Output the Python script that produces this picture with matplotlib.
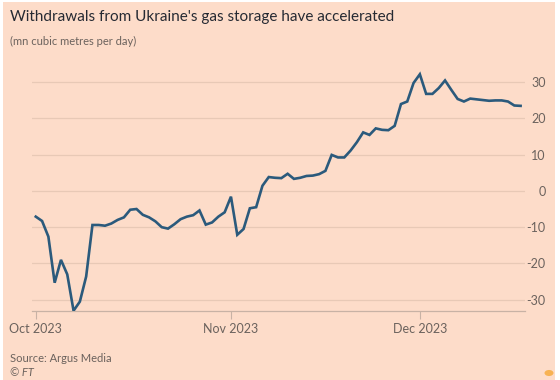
import numpy as np
import matplotlib
matplotlib.use('Agg')
import matplotlib.pyplot as plt
import matplotlib.dates as mdates
from matplotlib.patches import Rectangle, Circle

plt.rcParams['font.family'] = ['Lato', 'DejaVu Sans']

# daily withdrawals, mn cubic metres per day (Oct 1 - Dec 17 2023)
start = np.datetime64('2023-10-01')
oct_vals = [-7.1, -8.3, -12.6, -25.3, -19.0, -23.0, -33.0, -30.5, -23.6, -9.4,
            -9.4, -9.6, -9.0, -8.0, -7.3, -5.2, -5.0, -6.6, -7.3, -8.4,
            -10.0, -10.4, -9.2, -7.8, -7.1, -6.7, -5.4, -9.3, -8.7, -7.1, -5.9]
nov_vals = [-1.6, -12.1, -10.5, -4.8, -4.5, 1.4, 3.8, 3.6, 3.5, 4.7,
            3.3, 3.6, 4.1, 4.2, 4.6, 5.5, 9.9, 9.2, 9.2, 11.1,
            13.4, 16.1, 15.4, 17.2, 16.8, 16.7, 17.9, 23.9, 24.6, 29.7]
dec_vals = [32.1, 26.7, 26.7, 28.3, 30.4, 27.8, 25.3, 24.6, 25.4, 25.2,
            25.0, 24.8, 24.9, 24.9, 24.6, 23.5, 23.4]
values = oct_vals + nov_vals + dec_vals
days = start + np.arange(len(values))

xtick_dates = ['2023-10-01', '2023-11-01', '2023-12-01']
xtick_labels = ['Oct 2023', 'Nov 2023', 'Dec 2023']
yticks = [-30, -20, -10, 0, 10, 20, 30]

bg = '#fddcc9'
grey = '#6b625d'

fig = plt.figure(figsize=(5.6, 3.8), dpi=100)
fig.patch.set_facecolor('white')
fig.patches.append(Rectangle((3/560, 0), 552/560, 378/380, transform=fig.transFigure,
                             facecolor=bg, edgecolor='none', zorder=-10))
fig.patches.append(Circle((549/560, 7/380), 0.008, transform=fig.transFigure,
                          facecolor='#f7b253', edgecolor='none', zorder=-5))

ax = fig.add_axes([32/560, 69.3/380, 493/560, 239.7/380])
ax.set_facecolor('none')

x = mdates.date2num(days.astype('datetime64[D]').astype(object))
ax.plot(x, values, color='#2b5a7c', lw=1.9, solid_joinstyle='miter', zorder=3)

x0 = mdates.date2num(np.datetime64('2023-10-01').astype(object))
x1 = mdates.date2num(np.datetime64('2023-12-17').astype(object))
ax.set_xlim(x0 - 0.6, x1 + 0.7)
ax.set_ylim(-33, 33)

ax.set_yticks(yticks)
ax.set_yticklabels([str(v) for v in yticks])
ax.yaxis.tick_right()
ax.tick_params(axis='y', length=0, pad=15, labelsize=9, labelcolor=grey)
for lab in ax.get_yticklabels():
    lab.set_horizontalalignment('right')
ax.grid(axis='y', color='#e8c9b6', lw=0.9)

xt = [mdates.date2num(np.datetime64(d).astype(object)) for d in xtick_dates]
ax.set_xticks(xt)
ax.set_xticklabels(xtick_labels)
ax.tick_params(axis='x', length=6, width=0.8, color='#c8b2a5', pad=3,
               labelsize=9, labelcolor=grey)

for s in ['top', 'left', 'right']:
    ax.spines[s].set_visible(False)
ax.spines['bottom'].set_color('#c8b2a5')
ax.spines['bottom'].set_linewidth(0.9)

fig.text(10/560, 1 - 17/380, "Withdrawals from Ukraine's gas storage have accelerated",
         fontsize=11, color='#262a33', va='center', ha='left')
fig.text(10/560, 1 - 41/380, '(mn cubic metres per day)',
         fontsize=8, color=grey, va='center', ha='left')
fig.text(10/560, 1 - 359/380, 'Source: Argus Media',
         fontsize=8, color=grey, va='center', ha='left')
fig.text(10/560, 1 - 372/380, '© FT',
         fontsize=8, color=grey, va='center', ha='left', style='italic')

fig.savefig('out.png', dpi=100, facecolor=fig.get_facecolor())
